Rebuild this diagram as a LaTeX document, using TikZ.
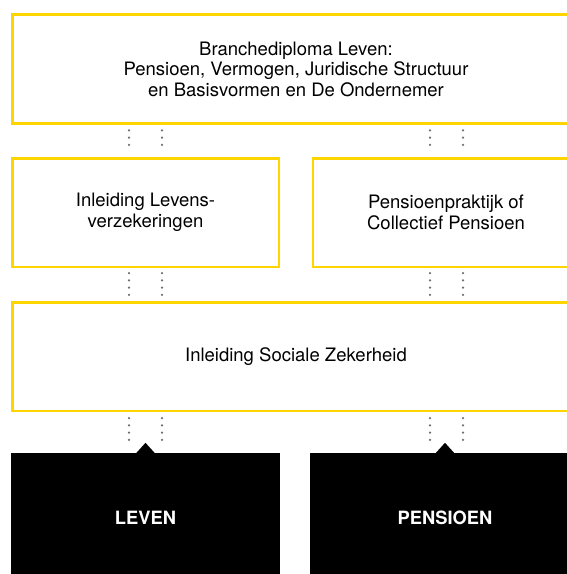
\documentclass[tikz,border=0pt]{standalone}
\usepackage{fontspec}
\setmainfont{TeX Gyre Heros}
\usetikzlibrary{calc}
\definecolor{ylw}{RGB}{255,213,0}
\definecolor{dotgray}{RGB}{110,110,110}
\tikzset{
  ybox/.style={draw=ylw, line width=2.5pt, fill=white, align=center,
    font=\fontsize{18.5}{20.5}\selectfont, inner sep=0pt},
  bbox/.style={fill=black, text=white, inner sep=0pt,
    font=\fontsize{18.3}{20}\selectfont\bfseries},
  dotline/.style={draw=dotgray, line width=2.5pt, line cap=round,
    dash pattern=on 0pt off 7.3pt},
  tip/.style={fill=black}
}
\begin{document}
\begin{tikzpicture}[x=1pt,y=-1pt]
\useasboundingbox (0,0) rectangle (567,574);
\clip (0,0) rectangle (567,574);
% columns
\coordinate (cA) at (129,0);
\coordinate (cB) at (162,0);
\coordinate (cC) at (430,0);
\coordinate (cD) at (463,0);
% boxes
\node[ybox, minimum width=567.5pt, minimum height=109pt] (top) at (296,69)
  {Branchediploma Leven:\\Pensioen, Vermogen, Juridische Structuur\\en Basisvormen en De Ondernemer};
\node[ybox, minimum width=266.5pt, minimum height=108.5pt] (lev) at (145.5,212.5)
  {Inleiding Levens-\\verzekeringen};
\node[ybox, minimum width=266.5pt, minimum height=108.5pt] (pen) at (446,212.5)
  {Pensioenpraktijk of\\Collectief Pensioen};
\node[ybox, minimum width=567.5pt, minimum height=108.5pt] (soc) at (296,356.5)
  {Inleiding Sociale Zekerheid};
\node[bbox, minimum width=269pt, minimum height=130pt] (blev) at (145.5,518) {LEVEN};
\node[bbox, minimum width=270pt, minimum height=130pt] (bpen) at (445,518) {PENSIOEN};
% dotted connectors
\foreach \c in {cA,cB,cC,cD}{
  \draw[dotline, shorten <=5.5pt, shorten >=5pt] (top.south -| \c) -- (lev.north -| \c);
  \draw[dotline, shorten <=5pt, shorten >=6pt] (lev.south -| \c) -- (soc.north -| \c);
}
\foreach \c in {cA,cB}{
  \draw[dotline, shorten <=6pt, shorten >=6pt] (soc.south -| \c) -- (blev.north -| \c);
}
\foreach \c in {cC,cD}{
  \draw[dotline, shorten <=6pt, shorten >=6pt] (soc.south -| \c) -- (bpen.north -| \c);
}
% arrow tips
\fill[tip] ($(blev.north)+(-9.5,0.5)$) -- ($(blev.north)+(0,-10)$) -- ($(blev.north)+(9.5,0.5)$) -- cycle;
\fill[tip] ($(bpen.north)+(-9.5,0.5)$) -- ($(bpen.north)+(0,-10)$) -- ($(bpen.north)+(9.5,0.5)$) -- cycle;
\end{tikzpicture}
\end{document}
